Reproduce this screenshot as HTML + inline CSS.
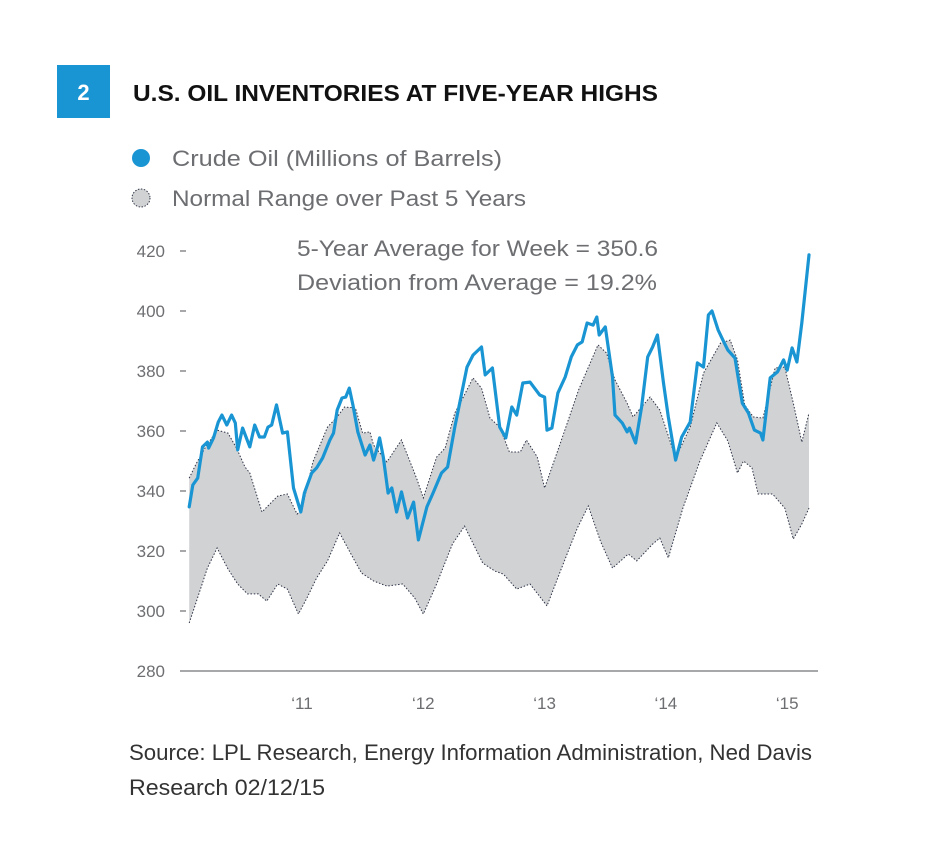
<!DOCTYPE html>
<html><head><meta charset="utf-8"><style>
html,body{margin:0;padding:0;background:#fff;}
svg{display:block;font-family:"Liberation Sans",sans-serif;}
</style></head><body>
<svg id="chart" width="926" height="866" viewBox="0 0 926 866" xmlns="http://www.w3.org/2000/svg">
<rect x="57" y="65" width="53" height="53" fill="#1a95d3"/>
<text x="83.5" y="100" font-size="22" font-weight="bold" fill="#fff" text-anchor="middle">2</text>
<text x="133" y="101" font-size="23" font-weight="bold" fill="#111" textLength="525" lengthAdjust="spacingAndGlyphs">U.S. OIL INVENTORIES AT FIVE-YEAR HIGHS</text>
<circle cx="141" cy="158" r="9" fill="#1a95d3"/>
<text x="172" y="166" font-size="22" fill="#6d6e71" textLength="330" lengthAdjust="spacingAndGlyphs">Crude Oil (Millions of Barrels)</text>
<circle cx="141" cy="198" r="9" fill="#d1d2d4" stroke="#333a4a" stroke-width="1" stroke-dasharray="1.5,1.5"/>
<text x="172" y="206" font-size="22" fill="#6d6e71" textLength="354" lengthAdjust="spacingAndGlyphs">Normal Range over Past 5 Years</text>
<g id="plot"></g>
<text x="297" y="256" font-size="22" fill="#6d6e71" textLength="361" lengthAdjust="spacingAndGlyphs">5-Year Average for Week = 350.6</text>
<text x="297" y="290" font-size="22" fill="#6d6e71" textLength="360" lengthAdjust="spacingAndGlyphs">Deviation from Average  = 19.2%</text>
<text x="129" y="760" font-size="22" fill="#333" textLength="683" lengthAdjust="spacingAndGlyphs">Source: LPL Research, Energy Information Administration, Ned Davis</text>
<text x="129" y="795" font-size="22" fill="#333" textLength="196" lengthAdjust="spacingAndGlyphs">Research  02/12/15</text>
</svg>
<script>
const yTicks=[280,300,320,340,360,380,400,420];
const xTickYears=[2011,2012,2013,2014,2015];
const xTickLabels=["\u201811","\u201812","\u201813","\u201814","\u201815"];
const crudeDates=[2010.07,2010.10,2010.14,2010.18,2010.22,2010.23,2010.27,2010.31,2010.34,2010.38,2010.42,2010.45,2010.47,2010.51,2010.57,2010.61,2010.65,2010.69,2010.72,2010.75,2010.79,2010.84,2010.88,2010.93,2010.99,2011.02,2011.08,2011.12,2011.17,2011.23,2011.26,2011.29,2011.33,2011.36,2011.39,2011.42,2011.46,2011.52,2011.56,2011.59,2011.62,2011.64,2011.67,2011.71,2011.74,2011.78,2011.82,2011.87,2011.92,2011.96,2012.03,2012.08,2012.15,2012.20,2012.26,2012.36,2012.41,2012.48,2012.51,2012.57,2012.63,2012.68,2012.73,2012.77,2012.82,2012.88,2012.96,2013.00,2013.02,2013.06,2013.11,2013.17,2013.22,2013.27,2013.31,2013.35,2013.40,2013.43,2013.45,2013.50,2013.56,2013.58,2013.64,2013.68,2013.70,2013.75,2013.80,2013.85,2013.89,2013.93,2013.98,2014.02,2014.08,2014.13,2014.20,2014.26,2014.31,2014.35,2014.38,2014.43,2014.47,2014.51,2014.57,2014.63,2014.68,2014.73,2014.78,2014.80,2014.86,2014.92,2014.97,2015.00,2015.04,2015.08,2015.12,2015.18];
const crudeValues=[334.7,342,344.3,354.7,356.3,354.3,357.7,363,365.3,362,365.3,362.7,353.7,361,354.7,362,358,358,361.3,362,368.7,359.3,359.7,341,333,339.3,346,347.7,351,357,359.3,367,371,371.3,374.3,368.7,359.7,352,355.3,350.3,354.3,357.7,351.3,339.3,341,333,339.7,331,336.3,323.7,334.7,339.3,346,348,361.3,381.3,385.3,388,378.7,381,361.3,357.7,368,365.3,376,376.3,372,371.3,360.3,361,372.7,378,384.7,388.7,389.7,396,395.3,398,392,394.7,378,365.3,362.7,359.7,361,356,368,384.7,388,392,376,364.7,350.3,358,363,382.7,381.3,398.7,400,393.7,390.3,387,384.3,369.3,366,360.3,359.3,357,377.7,379.7,383.7,380.3,387.7,383,396,418.7];
const upperDates=[2010.07,2010.13,2010.20,2010.30,2010.39,2010.46,2010.53,2010.57,2010.67,2010.75,2010.80,2010.88,2010.96,2011.00,2011.09,2011.21,2011.29,2011.35,2011.44,2011.50,2011.56,2011.59,2011.70,2011.82,2011.95,2012.00,2012.11,2012.18,2012.26,2012.33,2012.41,2012.48,2012.55,2012.63,2012.71,2012.80,2012.85,2012.94,2013.00,2013.13,2013.28,2013.44,2013.51,2013.58,2013.68,2013.73,2013.87,2013.95,2014.08,2014.20,2014.31,2014.45,2014.53,2014.59,2014.65,2014.72,2014.80,2014.90,2014.98,2015.05,2015.12,2015.18];
const upperValues=[344.3,349.3,354.3,360.3,359.3,354.3,348,346,333,336.3,338.3,339,332.3,334,349.7,361.3,364.7,368,367.7,359.3,359.7,355.3,349.7,357,343.7,337.7,351.3,354.3,366,371.3,377.7,374.3,364.3,361.3,353,353,357,351.3,341,356,373.7,388.7,386,377,369.3,364.7,371.3,367,351,361.3,379.3,389.3,390.3,383.7,368.7,364.7,364.3,381,381.3,369.3,356.3,366];
const lowerDates=[2010.07,2010.13,2010.22,2010.30,2010.39,2010.47,2010.55,2010.64,2010.71,2010.80,2010.88,2010.97,2011.04,2011.12,2011.21,2011.31,2011.40,2011.49,2011.59,2011.70,2011.83,2011.93,2012.00,2012.11,2012.24,2012.34,2012.49,2012.59,2012.66,2012.77,2012.88,2013.02,2013.13,2013.27,2013.36,2013.46,2013.56,2013.69,2013.76,2013.89,2013.95,2014.02,2014.14,2014.28,2014.42,2014.51,2014.59,2014.64,2014.71,2014.76,2014.88,2014.98,2015.05,2015.12,2015.18];
const lowerValues=[296,303.3,314.3,321,314,309,305.7,305.7,303.3,309,307.3,299,304.3,311,316.7,326,319.3,312.7,310,308.3,309,304.3,299,309,322.3,328.3,316,313.3,312.3,307.3,309,301.7,313.3,327.7,335,323.3,314.3,319,316.7,322.3,324.3,317.7,334.3,350,362.7,356.7,346,350,347.7,339,339,334.3,324,329,334.3];

const NS="http://www.w3.org/2000/svg";
const g=document.getElementById('plot');
function xS(d){return 302+(d-2011)*121.3;}
function yS(v){return 671-(v-280)*3;}
function mk(tag,attrs){const e=document.createElementNS(NS,tag);for(const k in attrs)e.setAttribute(k,attrs[k]);g.appendChild(e);return e;}
function pts(ds,vs){return ds.map((d,i)=>xS(d).toFixed(1)+","+yS(vs[i]).toFixed(1));}

const band=mk('polygon',{points:pts(upperDates,upperValues).concat(pts(lowerDates,lowerValues).reverse()).join(' '),fill:'#d1d2d4'});


const up=mk('polyline',{points:pts(upperDates,upperValues).join(' '),fill:'none',stroke:'#2e3547','stroke-width':1,'stroke-dasharray':'1.5,1.8'});


const lo=mk('polyline',{points:pts(lowerDates,lowerValues).join(' '),fill:'none',stroke:'#2e3547','stroke-width':1,'stroke-dasharray':'1.5,1.8'});



const axis=mk('line',{x1:180,x2:818,y1:yS(280),y2:yS(280),stroke:'#8a8b8d','stroke-width':1.5});



yTicks.forEach(v=>{
  const t=mk('text',{x:165,y:yS(v)+6,'font-size':17,fill:'#6d6e71','text-anchor':'end'});
  t.textContent=v;
  
  
  if(v>280){
    const m=mk('line',{x1:180,x2:186,y1:yS(v),y2:yS(v),stroke:'#8a8b8d','stroke-width':1.5});
    
    
  }
});
xTickYears.forEach((yr,i)=>{
  const t=mk('text',{x:xS(yr),y:709,'font-size':17,fill:'#6d6e71','text-anchor':'middle'});
  t.textContent=xTickLabels[i];
  
  
});

const crude=mk('polyline',{points:pts(crudeDates,crudeValues).join(' '),fill:'none',stroke:'#1a95d3','stroke-width':3.2,'stroke-linejoin':'round','stroke-linecap':'round'});


</script>
</body></html>
